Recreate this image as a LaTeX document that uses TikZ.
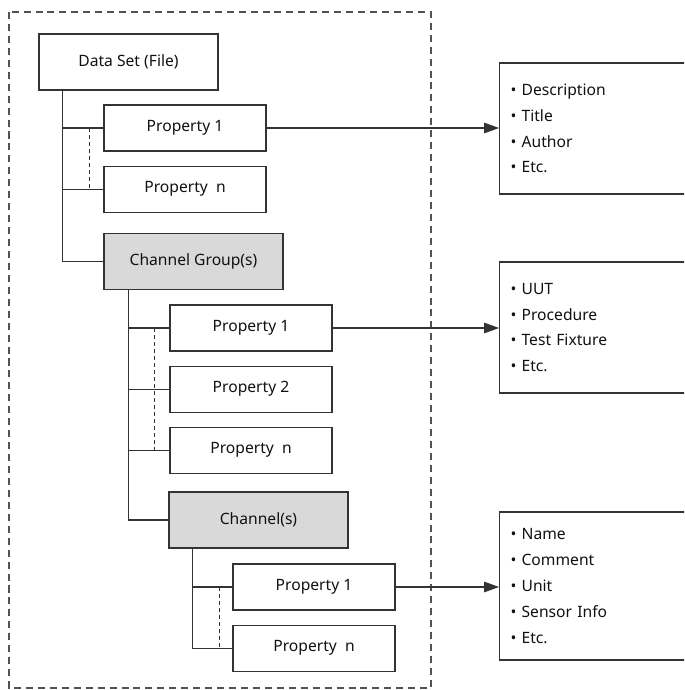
\documentclass[tikz,border=0pt]{standalone}
\usepackage{fontspec}
\setmainfont{Noto Sans}
\usetikzlibrary{arrows.meta,positioning,calc}
\definecolor{fline}{HTML}{333333}
\definecolor{fgroup}{HTML}{D9D9D9}
\definecolor{ftext}{HTML}{111111}
\tikzset{
  objbox/.style  = {draw=fline, line width=0.6pt, minimum width=3.58cm,
                    minimum height=1.12cm, text=ftext},
  propbox/.style = {draw=fline, line width=0.6pt, minimum width=3.24cm,
                    minimum height=0.92cm, text=ftext},
  grpbox/.style  = {objbox, fill=fgroup},
  infobox/.style = {draw=fline, line width=0.6pt, anchor=west, align=left,
                    text width=5cm, inner xsep=0.22cm, text=ftext},
  tree/.style    = {draw=fline, line width=0.6pt},
  dots/.style    = {draw=fline, line width=0.6pt, dash pattern=on 2.3pt off 1.7pt},
  link/.style    = {draw=fline, line width=0.6pt, -{Triangle[length=8.5pt,width=6pt]}},
}

\begin{document}
\begin{tikzpicture}[x=0.02cm,y=-0.02cm,font=\fontsize{8.9pt}{14.7pt}\selectfont,
                    node distance=0.28cm]
\useasboundingbox (0,0) rectangle (684,690);
\clip (0,0) rectangle (684,690);
% file container
\draw[draw=fline!85, line width=0.6pt, dash pattern=on 4pt off 2.8pt] (9,12) rectangle (431,688);
% data set level
\node[objbox] (dset) at (128.5,62) {Data Set (File)};
\node[propbox] (p1a) at (185,128) {Property 1};
\node[propbox, below=of p1a] (pna) {Property\ \ n};
\node[grpbox] (grp) at (193.5,261.5) {Channel Group(s)};
% group level
\node[propbox] (p1b) at (251,328) {Property 1};
\node[propbox, below=of p1b] (p2b) {Property 2};
\node[propbox, below=of p2b] (pnb) {Property\ \ n};
\node[grpbox] (chan) at (258.5,520) {Channel(s)};
% channel level
\node[propbox] (p1c) at (314,587) {Property 1};
\node[propbox, below=of p1c] (pnc) {Property\ \ n};
% property lists
\node[infobox, minimum height=2.62cm] (info1) at (499,128.5)
  {•\ Description\\•\ Title\\•\ Author\\•\ Etc.};
\node[infobox, minimum height=2.62cm] (info2) at (499,327.5)
  {•\ UUT\\•\ Procedure\\•\ Test Fixture\\•\ Etc.};
\node[infobox, minimum height=2.96cm] (info3) at (499,586)
  {•\ Name\\•\ Comment\\•\ Unit\\•\ Sensor Info\\•\ Etc.};
% tree lines
\coordinate (t1) at ([xshift=0.48cm]dset.south west);
\coordinate (t2) at ([xshift=0.5cm]grp.south west);
\coordinate (t3) at ([xshift=0.48cm]chan.south west);
\draw[tree] (t1) |- (grp.west);
\draw[tree] (t1) |- (p1a.west);
\draw[tree] (t1) |- (pna.west);
\draw[tree] (t2) |- (chan.west);
\foreach \b in {p1b,p2b,pnb}
  \draw[tree] (t2) |- (\b.west);
\draw[tree] (t3) |- (p1c.west);
\draw[tree] (t3) |- (pnc.west);
\draw[dots] ([xshift=-0.28cm]p1a.west) -- ([xshift=-0.28cm]pna.west);
\draw[dots] ([xshift=-0.3cm]p1b.west) -- ([xshift=-0.3cm]pnb.west);
\draw[dots] ([xshift=-0.26cm]p1c.west) -- ([xshift=-0.26cm]pnc.west);
% links
\draw[link] (p1a.east) -- (p1a.east -| info1.west);
\draw[link] (p1b.east) -- (p1b.east -| info2.west);
\draw[link] (p1c.east) -- (p1c.east -| info3.west);
\end{tikzpicture}
\end{document}
